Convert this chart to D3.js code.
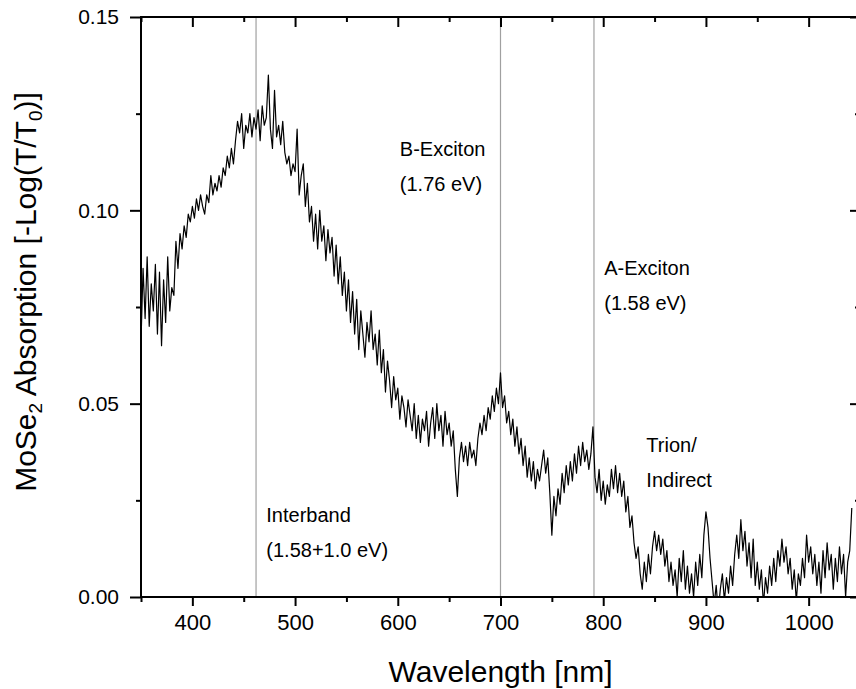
<!DOCTYPE html>
<html>
<head>
<meta charset="utf-8">
<script src="https://cdn.jsdelivr.net/npm/d3@7"></script>
<style>
  body { margin: 0; background: #fff; }
  svg text { font-family: "Liberation Sans", Arial, sans-serif; fill: #000; }
</style>
</head>
<body>
<svg id="chart" width="856" height="689"></svg>
<script>
const startWl = 350;
const stepWl = 2;
const absorbance = [
  // 350 - 398
  0.066, 0.085, 0.072, 0.088, 0.070, 0.081, 0.074, 0.086, 0.068, 0.084, 0.065, 0.082, 0.071,
  0.088, 0.074, 0.080, 0.078, 0.092, 0.085, 0.094, 0.090, 0.096, 0.093, 0.099, 0.097,
  // 400 - 448
  0.101, 0.098, 0.103, 0.100, 0.104, 0.101, 0.099, 0.104, 0.102, 0.109, 0.104, 0.107, 0.105,
  0.109, 0.106, 0.111, 0.109, 0.114, 0.111, 0.116, 0.112, 0.118, 0.123, 0.120, 0.125,
  // 450 - 498
  0.116, 0.122, 0.120, 0.125, 0.119, 0.124, 0.121, 0.126, 0.118, 0.127, 0.122, 0.124, 0.135,
  0.121, 0.116, 0.131, 0.119, 0.122, 0.117, 0.123, 0.115, 0.112, 0.114, 0.109, 0.112,
  // 500 - 548
  0.110, 0.121, 0.104, 0.109, 0.112, 0.101, 0.107, 0.097, 0.101, 0.092, 0.099, 0.090, 0.100,
  0.092, 0.096, 0.087, 0.095, 0.089, 0.093, 0.083, 0.091, 0.081, 0.088, 0.078, 0.084,
  // 550 - 598
  0.074, 0.082, 0.071, 0.079, 0.068, 0.077, 0.064, 0.074, 0.068, 0.062, 0.071, 0.066, 0.074,
  0.064, 0.068, 0.060, 0.069, 0.058, 0.064, 0.053, 0.061, 0.056, 0.049, 0.057, 0.051,
  // 600 - 648
  0.054, 0.046, 0.052, 0.049, 0.044, 0.051, 0.047, 0.043, 0.050, 0.041, 0.047, 0.040, 0.046,
  0.043, 0.048, 0.039, 0.045, 0.049, 0.041, 0.050, 0.043, 0.047, 0.039, 0.048, 0.042,
  // 650 - 698
  0.045, 0.039, 0.043, 0.033, 0.026, 0.036, 0.040, 0.035, 0.039, 0.034, 0.040, 0.036, 0.038,
  0.034, 0.041, 0.045, 0.042, 0.047, 0.043, 0.049, 0.046, 0.052, 0.048, 0.054, 0.050,
  // 700 - 748
  0.058, 0.049, 0.052, 0.045, 0.048, 0.042, 0.046, 0.039, 0.044, 0.037, 0.041, 0.034, 0.039,
  0.031, 0.036, 0.030, 0.035, 0.028, 0.033, 0.030, 0.034, 0.038, 0.032, 0.036, 0.027,
  // 750 - 798
  0.016, 0.026, 0.021, 0.028, 0.024, 0.032, 0.027, 0.034, 0.029, 0.035, 0.030, 0.037, 0.032,
  0.039, 0.034, 0.040, 0.035, 0.038, 0.033, 0.037, 0.044, 0.031, 0.027, 0.033, 0.025,
  // 800 - 848
  0.030, 0.024, 0.029, 0.026, 0.033, 0.028, 0.034, 0.027, 0.032, 0.026, 0.030, 0.022, 0.026,
  0.018, 0.021, 0.014, 0.010, 0.013, 0.006, 0.002, 0.009, 0.004, 0.011, 0.006, 0.013,
  // 850 - 898
  0.017, 0.012, 0.016, 0.011, 0.015, 0.008, 0.012, 0.004, 0.009, 0.003, 0.007, 0.000, 0.010,
  0.004, 0.012, 0.002, 0.008, 0.001, 0.006, 0.000, 0.009, 0.003, 0.011, 0.005, 0.016,
  // 900 - 948
  0.022, 0.018, 0.010, 0.004, -0.002, 0.003, -0.004, 0.002, 0.006, -0.001, 0.005, 0.001, 0.008,
  0.003, 0.011, 0.016, 0.010, 0.020, 0.012, 0.017, 0.008, 0.014, 0.005, 0.015, 0.003,
  // 950 - 998
  0.009, 0.002, 0.007, -0.002, 0.005, 0.001, 0.008, 0.003, 0.010, 0.004, 0.012, 0.008, 0.015,
  0.009, 0.013, 0.006, 0.010, 0.002, 0.007, -0.001, 0.006, 0.003, 0.010, 0.005, 0.016,
  // 1000 - 1042
  0.009, 0.013, 0.006, 0.011, 0.003, 0.009, 0.001, 0.012, 0.005, 0.014, 0.007, 0.011, 0.002,
  0.010, 0.004, 0.013, 0.006, 0.011, 0.000, 0.009, 0.012, 0.023
];

const xMajorTicks = [400, 500, 600, 700, 800, 900, 1000];
const xMinorTicks = [350, 450, 550, 650, 750, 850, 950, 1050];
const yMajorTicks = [0, 0.05, 0.10, 0.15];
const yMinorTicks = [0.025, 0.075, 0.125];

// vertical marker lines (nm)
const markerLines = [462, 700, 791];

// annotation text: wavelength for x, absorbance for baseline y
const annotations = [
  { lines: ["B-Exciton", "(1.76 eV)"], wl: 602, val: 0.114 },
  { lines: ["A-Exciton", "(1.58 eV)"], wl: 801, val: 0.0834 },
  { lines: ["Trion/", "Indirect"], wl: 842, val: 0.0376 },
  { lines: ["Interband", "(1.58+1.0 eV)"], wl: 472, val: 0.0194 }
];

const svg = d3.select("#chart");
const margin = { left: 141, right: 860, top: 17, bottom: 597 };

const x = d3.scaleLinear().domain([350, 1050]).range([margin.left, margin.right]);
const y = d3.scaleLinear().domain([0, 0.15]).range([margin.bottom, margin.top]);

const data = absorbance.map((v, i) => ({ wl: startWl + i * stepWl, a: v }));

svg.append("clipPath").attr("id", "plot-clip")
  .append("rect")
  .attr("x", margin.left).attr("y", margin.top)
  .attr("width", margin.right - margin.left)
  .attr("height", margin.bottom - margin.top);

// gray marker lines
svg.append("g").selectAll("line")
  .data(markerLines)
  .enter()
  .append("line")
  .attr("x1", d => x(d)).attr("x2", d => x(d))
  .attr("y1", y(0.15)).attr("y2", y(0))
  .attr("stroke", "#a0a0a0")
  .attr("stroke-width", 1.2);

// spectrum
const line = d3.line().x(d => x(d.wl)).y(d => y(d.a));
svg.append("path")
  .datum(data)
  .attr("clip-path", "url(#plot-clip)")
  .attr("fill", "none")
  .attr("stroke", "#000")
  .attr("stroke-width", 1.2)
  .attr("stroke-linejoin", "round")
  .attr("d", line);

// annotations
annotations.forEach(a => {
  a.lines.forEach((t, i) => {
    svg.append("text")
      .attr("x", x(a.wl))
      .attr("y", y(a.val) + i * 35)
      .attr("font-size", 20)
      .text(t);
  });
});

// axes
function styleAxis(g) {
  g.select(".domain").remove();
  g.selectAll(".tick line").attr("stroke", "#000").attr("stroke-width", 2);
  g.selectAll(".tick text").attr("font-size", 21).attr("font-family", "Liberation Sans, Arial, sans-serif");
}

svg.append("g")
  .attr("transform", `translate(0,${margin.bottom})`)
  .call(d3.axisBottom(x).tickValues(xMajorTicks).tickSize(9).tickPadding(8).tickFormat(d3.format("d")))
  .call(styleAxis)
  .call(g => g.selectAll(".tick text").attr("font-size", 22));

svg.append("g")
  .attr("transform", `translate(0,${margin.bottom})`)
  .call(d3.axisBottom(x).tickValues(xMinorTicks).tickSize(5).tickFormat(""))
  .call(styleAxis);

svg.append("g")
  .attr("transform", `translate(0,${margin.top})`)
  .call(d3.axisTop(x).tickValues(xMajorTicks).tickSize(-10).tickFormat(""))
  .call(styleAxis);

svg.append("g")
  .attr("transform", `translate(0,${margin.top})`)
  .call(d3.axisTop(x).tickValues(xMinorTicks).tickSize(-5).tickFormat(""))
  .call(styleAxis);

svg.append("g")
  .attr("transform", `translate(${margin.left},0)`)
  .call(d3.axisLeft(y).tickValues(yMajorTicks).tickSize(11).tickPadding(11).tickFormat(d3.format(".2f")))
  .call(styleAxis);

svg.append("g")
  .attr("transform", `translate(${margin.left},0)`)
  .call(d3.axisLeft(y).tickValues(yMinorTicks).tickSize(5).tickFormat(""))
  .call(styleAxis);

svg.append("g")
  .attr("transform", `translate(${margin.right},0)`)
  .call(d3.axisRight(y).tickValues(yMajorTicks).tickSize(-10).tickFormat(""))
  .call(styleAxis);

svg.append("g")
  .attr("transform", `translate(${margin.right},0)`)
  .call(d3.axisRight(y).tickValues(yMinorTicks).tickSize(-5).tickFormat(""))
  .call(styleAxis);

// frame
svg.append("rect")
  .attr("x", margin.left).attr("y", margin.top)
  .attr("width", margin.right - margin.left)
  .attr("height", margin.bottom - margin.top)
  .attr("fill", "none")
  .attr("stroke", "#000")
  .attr("stroke-width", 2);

// axis titles
svg.append("text")
  .attr("x", (margin.left + margin.right) / 2)
  .attr("y", 682)
  .attr("text-anchor", "middle")
  .attr("font-size", 30)
  .text("Wavelength [nm]");

const yTitle = svg.append("text")
  .attr("transform", "translate(36,292) rotate(-90)")
  .attr("text-anchor", "middle")
  .attr("font-size", 30);
yTitle.append("tspan").text("MoSe");
yTitle.append("tspan").attr("font-size", 19).attr("dy", 6).text("2");
yTitle.append("tspan").attr("dy", -6).text(" Absorption [-Log(T/T");
yTitle.append("tspan").attr("font-size", 19).attr("dy", 6).text("0");
yTitle.append("tspan").attr("dy", -6).text(")]");
</script>
</body>
</html>
